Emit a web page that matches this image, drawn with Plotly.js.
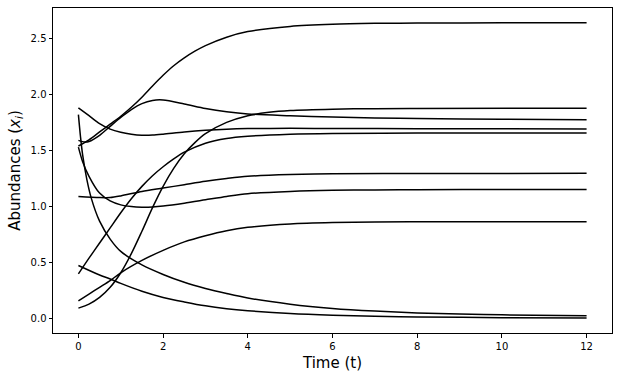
<!DOCTYPE html>
<html>
<head>
<meta charset="utf-8">
<script src="https://cdn.plot.ly/plotly-3.0.1.min.js"></script>
<style>html,body{margin:0;padding:0;background:#fff;}#chart{width:617px;height:376px;}</style>
</head>
<body>
<div id="chart"></div>
<script>
// Time points and abundances (one array per species)
const tA = [0, 0.25, 0.5, 0.75, 1, 1.25, 1.5, 1.75, 2, 2.25, 2.5, 2.75, 3, 3.5, 4, 5, 6, 7, 8, 10, 12];
const yA = [1.54, 1.595, 1.665, 1.735, 1.805, 1.885, 1.975, 2.075, 2.17, 2.255, 2.325, 2.385, 2.435, 2.51, 2.56, 2.606, 2.625, 2.633, 2.636, 2.638, 2.639];

const tB = [0, 0.25, 0.5, 0.75, 1, 1.25, 1.5, 1.75, 2, 2.5, 3, 3.5, 4, 5, 6, 8, 10, 12];
const yB = [1.88, 1.81, 1.74, 1.69, 1.662, 1.645, 1.636, 1.637, 1.645, 1.665, 1.68, 1.69, 1.695, 1.697, 1.696, 1.694, 1.693, 1.692];

const tC = [0, 0.05, 0.1, 0.2, 0.3, 0.5, 0.75, 1, 1.5, 2, 2.5, 3, 3.5, 4, 5, 6, 7, 8, 9, 10, 12];
const yC = [1.82, 1.62, 1.46, 1.24, 1.08, 0.87, 0.71, 0.60, 0.48, 0.395, 0.325, 0.27, 0.225, 0.185, 0.13, 0.092, 0.068, 0.052, 0.042, 0.035, 0.026];

const tD = [0, 0.15, 0.25, 0.5, 0.75, 1, 1.25, 1.5, 1.75, 2, 2.5, 3, 3.5, 4, 5, 6, 7, 8, 10, 12];
const yD = [1.59, 1.575, 1.58, 1.635, 1.715, 1.795, 1.865, 1.918, 1.946, 1.95, 1.915, 1.875, 1.845, 1.825, 1.81, 1.798, 1.79, 1.785, 1.778, 1.774];

const tE = [0, 0.1, 0.25, 0.5, 0.75, 1, 1.25, 1.5, 1.75, 2, 2.5, 3, 3.5, 4, 5, 6, 7, 8, 10, 12];
const yE = [1.53, 1.40, 1.27, 1.12, 1.05, 1.015, 1.0, 0.995, 0.997, 1.005, 1.03, 1.06, 1.09, 1.115, 1.135, 1.145, 1.148, 1.15, 1.152, 1.152];

const tF = [0, 0.5, 0.75, 1, 1.5, 2, 2.5, 3, 3.5, 4, 5, 6, 8, 12];
const yF = [1.09, 1.08, 1.08, 1.095, 1.135, 1.165, 1.195, 1.225, 1.25, 1.27, 1.285, 1.292, 1.295, 1.296];

const tG = [0, 0.5, 0.75, 1, 1.5, 2, 2.5, 3, 3.5, 4, 5, 6, 7, 8, 10, 12];
const yG = [0.475, 0.39, 0.355, 0.315, 0.245, 0.19, 0.15, 0.115, 0.09, 0.072, 0.046, 0.031, 0.022, 0.016, 0.01, 0.007];

const tH = [0, 0.25, 0.5, 0.75, 1, 1.25, 1.5, 1.75, 2, 2.25, 2.5, 3, 3.5, 4, 5, 6, 8, 12];
const yH = [0.40, 0.54, 0.675, 0.81, 0.945, 1.07, 1.18, 1.275, 1.355, 1.425, 1.485, 1.565, 1.607, 1.627, 1.645, 1.652, 1.655, 1.656];

const tI = [0, 0.25, 0.5, 0.75, 1, 1.5, 2, 2.5, 3, 3.5, 4, 5, 6, 7, 8, 12];
const yI = [0.16, 0.22, 0.28, 0.34, 0.41, 0.52, 0.61, 0.685, 0.74, 0.785, 0.815, 0.845, 0.857, 0.862, 0.864, 0.865];

const tJ = [0, 0.25, 0.5, 0.75, 1, 1.25, 1.5, 1.75, 2, 2.25, 2.5, 2.75, 3, 3.5, 4, 4.5, 5, 6, 7, 8, 12];
const yJ = [0.095, 0.13, 0.19, 0.28, 0.41, 0.58, 0.78, 0.99, 1.18, 1.34, 1.47, 1.57, 1.65, 1.75, 1.81, 1.84, 1.856, 1.868, 1.873, 1.875, 1.877];

const series = [[tA,yA],[tB,yB],[tC,yC],[tD,yD],[tE,yE],[tF,yF],[tG,yG],[tH,yH],[tI,yI],[tJ,yJ]];

const xTicks = [0, 2, 4, 6, 8, 10, 12];
const yTicks = [0.0, 0.5, 1.0, 1.5, 2.0, 2.5];
const xLabel = 'Time (t)';
const yLabel = 'Abundances (<i>x</i><sub><i>i</i></sub>)';

const traces = series.map(s => ({
  x: s[0], y: s[1], type: 'scatter', mode: 'lines',
  line: {color: 'black', width: 1.5, shape: 'spline', smoothing: 0.8},
  hoverinfo: 'skip', showlegend: false
}));

const font = {family: 'DejaVu Sans, sans-serif', color: '#000'};
const axisCommon = {
  showgrid: false, zeroline: false, showline: true, linecolor: '#000', linewidth: 1,
  mirror: true, ticks: 'outside', ticklen: 3.5, tickwidth: 1, tickcolor: '#000',
  tickfont: {family: font.family, size: 10, color: '#000'}
};

const layout = {
  width: 617, height: 376,
  margin: {l: 53, r: 5, t: 8, b: 43},
  paper_bgcolor: '#fff', plot_bgcolor: '#fff',
  font: font,
  xaxis: Object.assign({}, axisCommon, {
    range: [-0.6, 12.6], tickvals: xTicks, ticktext: xTicks.map(String),
    title: {text: xLabel, font: {family: font.family, size: 15, color: '#000'}, standoff: 6}
  }),
  yaxis: Object.assign({}, axisCommon, {
    range: [-0.127, 2.77], tickvals: yTicks, ticktext: yTicks.map(v => v.toFixed(1)),
    title: {text: yLabel, font: {family: font.family, size: 15, color: '#000'}, standoff: 6}
  })
};

Plotly.newPlot('chart', traces, layout, {staticPlot: true, displayModeBar: false});
</script>
</body>
</html>
